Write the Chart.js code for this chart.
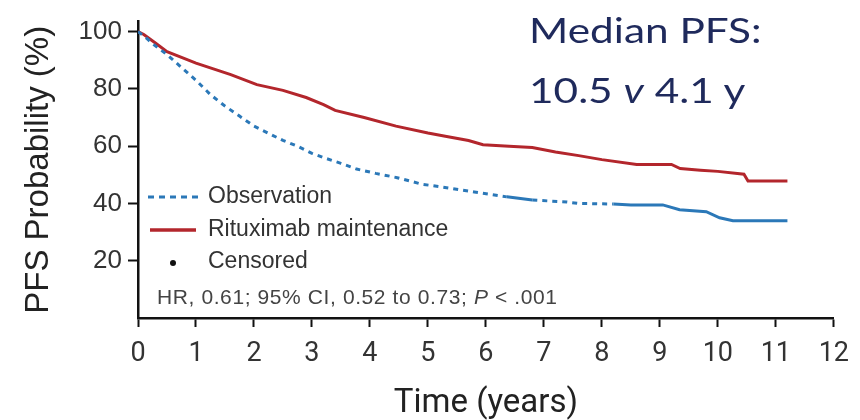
<!DOCTYPE html>
<html>
<head>
<meta charset="utf-8">
<title>PFS Kaplan-Meier</title>
<script src="https://cdn.jsdelivr.net/npm/chart.js@4.4.1/dist/chart.umd.min.js"></script>
<style>
    html, body { margin: 0; padding: 0; background: #fff; }
    #wrap { position: relative; width: 860px; height: 420px; }
    .median {
        position: absolute;
        left: 529px;
        font-family: Lato, 'Open Sans', sans-serif;
        font-size: 35px;
        color: #1f2a5c;
        line-height: 35px;
        white-space: nowrap;
        transform: scaleX(1.21);
        transform-origin: left top;
    }
    .hr {
        position: absolute;
        left: 157px;
        top: 285px;
        font-family: 'Liberation Sans', Arial, sans-serif;
        font-size: 21px;
        letter-spacing: 0.6px;
        color: #444;
        white-space: nowrap;
    }
</style>
</head>
<body>
<div id="wrap">
    <canvas id="kmChart" width="860" height="420"></canvas>
    <div class="median" style="top: 12px">Median PFS:</div>
    <div class="median" style="top: 72px">10.5 <i>v</i> 4.1 y</div>
    <div class="hr">HR, 0.61; 95% CI, 0.52 to 0.73; <i>P</i> &lt; .001</div>
</div>
<script>
const xTicks = [0, 1, 2, 3, 4, 5, 6, 7, 8, 9, 10, 11, 12]
const yTicks = [20, 40, 60, 80, 100]

// Rituximab maintenance
const rituxTime = [0, 0.1, 0.3, 0.5, 0.75, 1.0, 1.3, 1.6, 2.05, 2.5, 2.9, 3.2, 3.4, 3.9, 4.45, 5.0, 5.3, 5.7, 5.95, 6.4, 6.8, 7.2, 7.6, 8.0, 8.6, 9.2, 9.35, 9.7, 10.0, 10.45, 10.52, 11.2]
const rituxPFS = [100, 99, 96, 93, 91, 89, 87, 85, 81.5, 79.5, 77, 74.5, 72.5, 70, 67, 64.6, 63.5, 62, 60.5, 60, 59.5, 58, 56.7, 55.3, 53.6, 53.6, 52.2, 51.6, 51.2, 50.2, 47.8, 47.8]

// Observation
const obsTime = [0, 0.1, 0.3, 0.5, 0.75, 1.0, 1.25, 1.5, 1.75, 2.0, 2.25, 2.5, 2.75, 3.0, 3.2, 3.5, 3.77, 4.1, 4.47, 4.9, 5.26, 5.8, 6.36, 6.8, 7.4, 7.6, 8.2, 8.5, 9.05, 9.34, 9.8, 10.03, 10.26, 11.2]
const obsPFS = [100, 98.5, 95, 92, 87.5, 83, 78, 74, 70.5, 67, 64.5, 62, 60, 57.5, 56, 54, 52, 50.5, 49, 46.7, 45.7, 44, 42.3, 41.2, 40.5, 40, 39.8, 39.5, 39.5, 37.8, 37.1, 35, 34, 34]

const RED = '#b3262c'
const BLUE = '#2b78b8'
const COND = "Roboto, 'Liberation Sans', Arial, sans-serif"
const SANS = "'Liberation Sans', Arial, sans-serif"

function toPoints(xs, ys) {
    return xs.map((x, i) => ({ x: x, y: ys[i] }))
}

// observation is dashed except where censor marks pile up
function obsDash(ctx) {
    const x = ctx.p0.parsed.x
    if ((x >= 6.36 && x < 6.8) || x >= 8.2) return []
    return [5, 5]
}

const kmLegend = {
    id: 'kmLegend',
    afterDraw(chart) {
        const c = chart.ctx
        const left = chart.chartArea.left
        const ds = chart.data.datasets
        c.save()
        c.font = '23px ' + SANS
        c.fillStyle = '#333'
        c.textBaseline = 'middle'

        c.strokeStyle = BLUE
        c.lineWidth = 3
        c.setLineDash([6, 5])
        c.beginPath()
        c.moveTo(left + 10, 197)
        c.lineTo(left + 60, 197)
        c.stroke()
        c.fillText(ds[0].label, left + 70, 197)

        c.strokeStyle = RED
        c.lineWidth = 3.5
        c.setLineDash([])
        c.beginPath()
        c.moveTo(left + 12, 230)
        c.lineTo(left + 58, 230)
        c.stroke()
        c.fillText(ds[1].label, left + 70, 230)

        c.fillStyle = '#111'
        c.beginPath()
        c.arc(left + 35, 263, 3, 0, Math.PI * 2)
        c.fill()
        c.fillStyle = '#333'
        c.fillText('Censored', left + 70, 262)
        c.restore()
    },
}

const ctx = document.getElementById('kmChart').getContext('2d')
const kmChart = new Chart(ctx, {
    type: 'line',
    data: {
        datasets: [
            {
                label: 'Observation',
                data: toPoints(obsTime, obsPFS),
                borderColor: BLUE,
                borderWidth: 3,
                borderDash: [5, 5],
                segment: { borderDash: obsDash },
                pointRadius: 0,
                tension: 0,
            },
            {
                label: 'Rituximab maintenance',
                data: toPoints(rituxTime, rituxPFS),
                borderColor: RED,
                borderWidth: 3,
                pointRadius: 0,
                tension: 0,
            },
        ],
    },
    options: {
        responsive: false,
        animation: false,
        layout: { padding: { top: 17, right: 26, left: 0, bottom: 0 } },
        plugins: {
            legend: { display: false },
            tooltip: { enabled: false },
        },
        scales: {
            x: {
                type: 'linear',
                min: 0,
                max: 12,
                afterFit: (s) => { s.height = 102 },
                afterBuildTicks: (s) => { s.ticks = xTicks.map((v) => ({ value: v })) },
                ticks: {
                    font: { family: COND, size: 27 },
                    color: '#333',
                    padding: 11,
                    maxRotation: 0,
                },
                grid: {
                    drawOnChartArea: false,
                    color: '#111',
                    tickLength: 9,
                    tickWidth: 2,
                },
                border: { color: '#111', width: 2.5 },
                title: {
                    display: true,
                    text: 'Time (years)',
                    font: { family: COND, size: 33 },
                    color: '#222',
                    padding: { bottom: -4 },
                },
            },
            y: {
                min: 0,
                max: 103.5,
                afterFit: (s) => { s.width = 138 },
                afterBuildTicks: (s) => { s.ticks = yTicks.map((v) => ({ value: v })) },
                ticks: {
                    font: { family: SANS, size: 26 },
                    color: '#333',
                    padding: 6,
                },
                grid: {
                    drawOnChartArea: false,
                    color: '#111',
                    tickLength: 10,
                    tickWidth: 2,
                },
                border: { color: '#111', width: 2.5 },
                title: {
                    display: true,
                    text: 'PFS Probability (%)',
                    font: { family: SANS, size: 33 },
                    color: '#222',
                    padding: { top: 19 },
                },
            },
        },
    },
    plugins: [kmLegend],
})
</script>
</body>
</html>
